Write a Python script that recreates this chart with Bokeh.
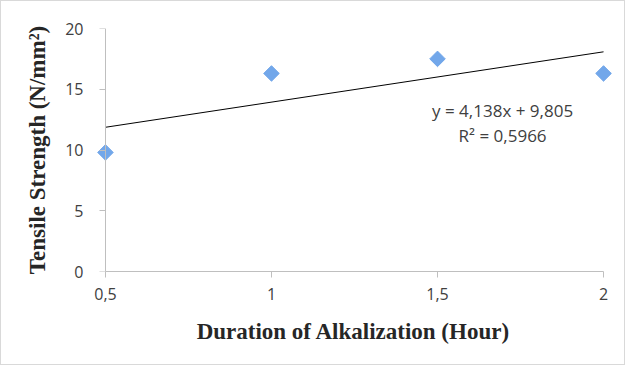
import numpy as np
from bokeh.plotting import figure
from bokeh.models import Range1d, FixedTicker, Label, LinearAxis
from bokeh.embed import file_html
from bokeh.resources import INLINE

# ---- data ----
duration_hours = [0.5, 1.0, 1.5, 2.0]
tensile_strength = [9.8, 16.3, 17.5, 16.3]
x_tick_values = [0.5, 1.0, 1.5, 2.0]
x_tick_labels = ["0,5", "1", "1,5", "2"]
y_tick_values = [0, 5, 10, 15, 20]
y_tick_labels = ["0", "5", "10", "15", "20"]
equation_text = "y = 4,138x + 9,805"
r2_text = "R² = 0,5966"
x_title = "Duration of Alkalization (Hour)"
y_title = "Tensile Strength (N/mm²)"

x_min, x_max = min(x_tick_values), max(x_tick_values)

p = figure(
    width=625, height=365,
    output_backend="svg", toolbar_location=None,
    x_range=Range1d(x_min - 0.036, x_max + 0.03),
    y_range=Range1d(min(y_tick_values), max(y_tick_values)),
    min_border_left=92, min_border_right=13,
    min_border_top=27, min_border_bottom=95,
    background_fill_color="white", border_fill_color="white",
)
p.styles = {"border": "1px solid #d9d9d9"}
p.outline_line_color = None
p.grid.visible = False

axis_color = "#bfbfbf"
label_color = "#404040"

# x axis
xa = p.xaxis[0]
xa.ticker = FixedTicker(ticks=x_tick_values)
xa.major_label_overrides = {v: s for v, s in zip(x_tick_values, x_tick_labels)}
xa.bounds = (x_min, x_max)
xa.axis_line_color = axis_color
xa.major_tick_line_color = axis_color
xa.major_tick_out = 6
xa.major_tick_in = 0
xa.major_label_standoff = 10

# y axis (labels + title, in the left panel)
ya = p.yaxis[0]
ya.ticker = FixedTicker(ticks=y_tick_values)
ya.major_label_overrides = {v: s for v, s in zip(y_tick_values, y_tick_labels)}
ya.axis_line_color = None
ya.major_tick_line_color = None
ya.major_tick_out = 0
ya.major_tick_in = 0
ya.major_label_standoff = 10

# y axis line + ticks, sitting at x = 0.5 (no labels of its own)
ya2 = LinearAxis(ticker=FixedTicker(ticks=y_tick_values), fixed_location=x_min)
ya2.axis_line_color = axis_color
ya2.major_tick_line_color = axis_color
ya2.minor_tick_line_color = None
ya2.major_tick_out = 0
ya2.major_tick_in = 6
ya2.major_label_overrides = {v: "" for v in y_tick_values}
ya2.major_label_text_color = None
ya2.major_label_standoff = 0
p.add_layout(ya2, "right")

for ax in (xa, ya):
    ax.minor_tick_line_color = None
    ax.major_label_text_font = "Open Sans"
    ax.major_label_text_font_size = "16px"
    ax.major_label_text_color = label_color
    ax.axis_label_text_font = "Liberation Serif"
    ax.axis_label_text_font_style = "bold"
    ax.axis_label_text_font_size = "23px"
    ax.axis_label_text_color = "#262626"

xa.axis_label = x_title
ya.axis_label = y_title
xa.axis_label_standoff = 16
ya.axis_label_standoff = 12

# trendline (least squares fit of the data)
slope, intercept = np.polyfit(duration_hours, tensile_strength, 1)
tx = [min(duration_hours), max(duration_hours)]
ty = [slope * v + intercept for v in tx]
p.line(tx, ty, line_color="black", line_width=1)

# points
p.scatter(duration_hours, tensile_strength, marker="square", angle=np.pi / 4,
          size=11, fill_color="#72A7EA", line_color="#72A7EA")

# equation labels
p.add_layout(Label(x=1.696, y=13.25, text=equation_text, text_align="center",
                   text_baseline="middle", text_font="Open Sans", text_font_size="17px",
                   text_color=label_color))
p.add_layout(Label(x=1.696, y=11.17, text=r2_text, text_align="center",
                   text_baseline="middle", text_font="Open Sans", text_font_size="17px",
                   text_color=label_color))

open("out.html", "w").write(file_html(p, INLINE))
